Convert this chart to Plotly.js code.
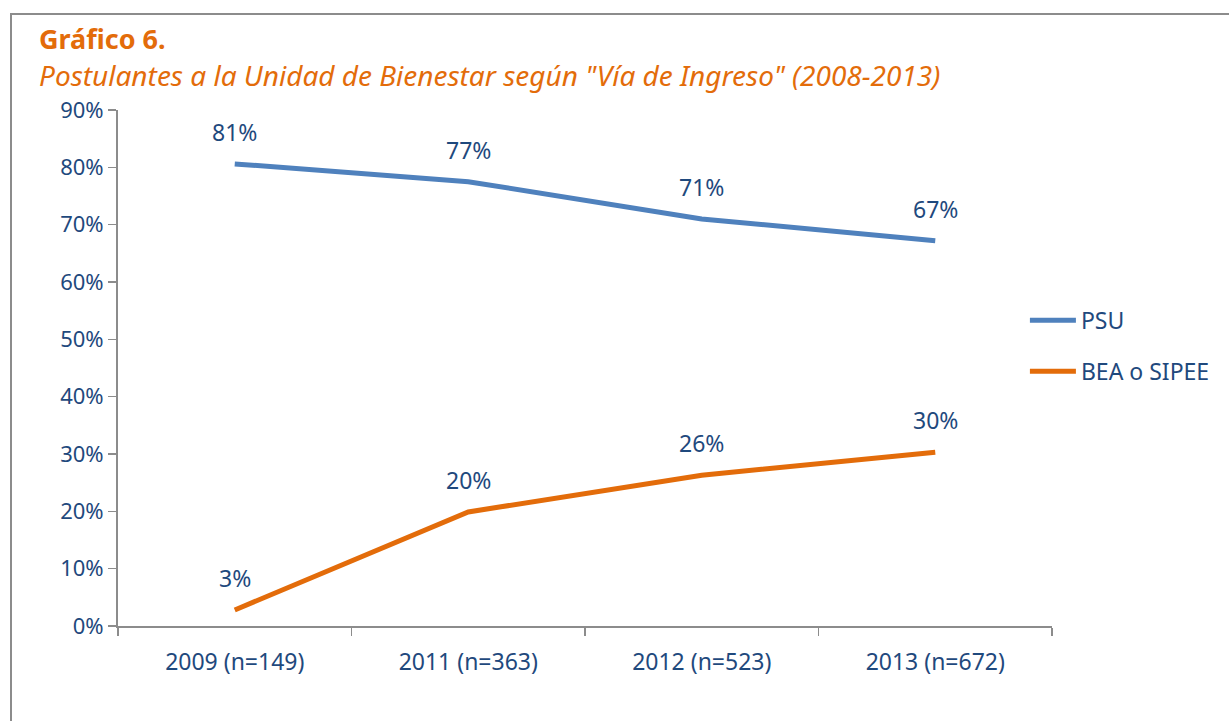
<!DOCTYPE html>
<html><head><meta charset="utf-8">
<script src="https://cdn.plot.ly/plotly-3.0.1.min.js"></script>
<style>
html,body{margin:0;padding:0;background:#fff;}
#frame{position:absolute;left:10px;top:13px;width:1240px;height:720px;border:2px solid #8c8c8c;box-sizing:border-box;pointer-events:none;z-index:5;}
#chart{width:1229px;height:721px;}
</style></head>
<body>
<div id="frame"></div>
<div id="chart"></div>
<script>
const categories = ["2009 (n=149)", "2011 (n=363)", "2012 (n=523)", "2013 (n=672)"];
const psu = [80.6, 77.5, 71.0, 67.2];
const psuLabels = ["81%", "77%", "71%", "67%"];
const bea = [2.8, 19.9, 26.3, 30.3];
const beaLabels = ["3%", "20%", "26%", "30%"];
const seriesNames = ["PSU", "BEA o SIPEE"];
const colors = ["#4F81BD", "#E36C0A"];
const textColor = "#1F497D";
const font = "'Noto Sans', 'Open Sans', sans-serif";

const traces = [
  {x: categories, y: psu, name: seriesNames[0], mode: "lines", legendgroup: "a",
   line: {color: colors[0], width: 5}, hoverinfo: "skip"},
  {x: categories, y: bea, name: seriesNames[1], mode: "lines", legendgroup: "b",
   line: {color: colors[1], width: 5}, hoverinfo: "skip"}
];

const annotations = [];
[[psu, psuLabels], [bea, beaLabels]].forEach(([vals, labs]) => {
  vals.forEach((v, i) => annotations.push({
    x: categories[i], y: v, xref: "x", yref: "y", text: labs[i], showarrow: false,
    yshift: 32, font: {family: font, size: 23, color: textColor}
  }));
});
annotations.push({xref: "paper", yref: "paper", x: -0.087, y: 1.138, xanchor: "left", yanchor: "middle",
  text: "<b>Gráfico 6.</b>", showarrow: false, font: {family: font, size: 27, color: "#E36C0A"}});
annotations.push({xref: "paper", yref: "paper", x: -0.087, y: 1.068, xanchor: "left", yanchor: "middle",
  text: "<i>Postulantes a la Unidad de Bienestar según \"Vía de Ingreso\" (2008-2013)</i>", showarrow: false,
  font: {family: font, size: 28, color: "#E36C0A"}});

const layout = {
  width: 1229, height: 721,
  margin: {l: 118, r: 177, t: 110, b: 95},
  paper_bgcolor: "#fff", plot_bgcolor: "#fff",
  showlegend: true,
  legend: {x: 0.971, y: 0.543, xanchor: "left", yanchor: "middle",
    tracegroupgap: 18, itemwidth: 46,
    font: {family: font, size: 23, color: textColor}, bgcolor: "rgba(0,0,0,0)"},
  xaxis: {type: "category", range: [-0.5, 3.5], showgrid: false, showline: true, linecolor: "#8c8c8c", linewidth: 2,
    ticks: "outside", tickson: "boundaries", ticklen: 8, tickcolor: "#8c8c8c", tickwidth: 1.5,
    ticklabelstandoff: 14,
    tickfont: {family: font, size: 23, color: textColor}, zeroline: false},
  yaxis: {range: [0, 90], dtick: 10, ticksuffix: "%", showgrid: false, showline: true,
    linecolor: "#8c8c8c", linewidth: 2, ticks: "outside", ticklen: 8, tickcolor: "#8c8c8c", tickwidth: 1.5,
    tickfont: {family: font, size: 22, color: textColor}, zeroline: false, fixedrange: true},
  annotations: annotations
};

Plotly.newPlot("chart", traces, layout, {displayModeBar: false, staticPlot: true});
</script>
</body></html>
